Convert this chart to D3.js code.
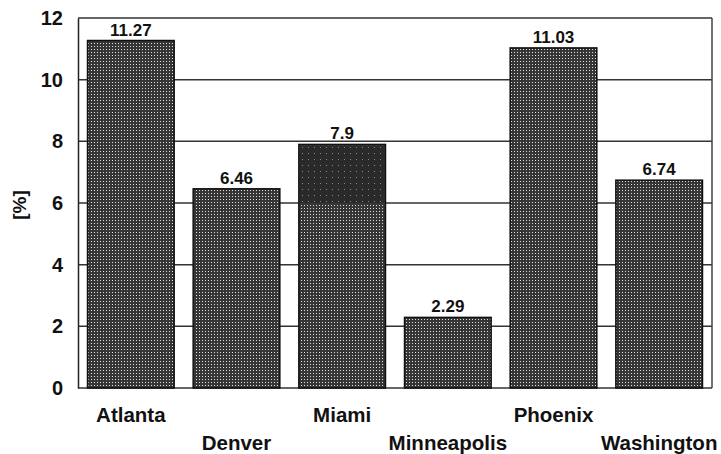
<!DOCTYPE html>
<html><head><meta charset="utf-8">
<script src="https://cdn.jsdelivr.net/npm/d3@7/dist/d3.min.js"></script>
<style>body{margin:0;background:#fff;} text{font-family:"Liberation Sans",Arial,sans-serif;font-weight:bold;fill:#111;}</style>
</head><body><svg id="c" width="721" height="454"></svg>
<script>
const categories = ["Atlanta","Denver","Miami","Minneapolis","Phoenix","Washington"];
const values = [11.27, 6.46, 7.9, 2.29, 11.03, 6.74];
const valueLabels = ["11.27","6.46","7.9","2.29","11.03","6.74"];
const yTicks = [0,2,4,6,8,10,12];
const darkSegment = {category:"Miami", from:6, to:7.9};

const svg = d3.select("#c");
const L=78, R=712, T=18, B=388;
const x = d3.scaleBand().domain(categories).range([L,R]).paddingInner(0.18).paddingOuter(0.09);
const y = d3.scaleLinear().domain([0,12]).range([B,T]);

const defs = svg.append("defs");
const p = defs.append("pattern").attr("id","dots").attr("patternUnits","userSpaceOnUse").attr("width",3).attr("height",3);
p.append("rect").attr("width",3).attr("height",3).attr("fill","#363636");
p.append("rect").attr("x",1).attr("y",1).attr("width",1).attr("height",1).attr("fill","#e0e0e0");
const p2 = defs.append("pattern").attr("id","dark").attr("patternUnits","userSpaceOnUse").attr("width",6).attr("height",6);
p2.append("rect").attr("width",6).attr("height",6).attr("fill","#2a2a2a");
p2.append("rect").attr("x",2).attr("y",3).attr("width",1).attr("height",1).attr("fill","#888");

// gridlines
svg.append("g").selectAll("line").data(yTicks.filter(d=>d>0)).join("line")
  .attr("x1",L).attr("x2",R).attr("y1",d=>y(d)).attr("y2",d=>y(d))
  .attr("stroke","#333").attr("stroke-width",1.5);
// border
svg.append("line").attr("x1",R).attr("x2",R).attr("y1",T).attr("y2",B).attr("stroke","#444").attr("stroke-width",1.5);
svg.append("line").attr("x1",L).attr("x2",R).attr("y1",B).attr("y2",B).attr("stroke","#333").attr("stroke-width",1.5);

// y axis
const ya = svg.append("g").attr("transform",`translate(${L},0)`).call(d3.axisLeft(y).tickValues(yTicks).tickSize(0).tickPadding(15));
ya.select(".domain").attr("stroke","#222").attr("stroke-width",1.5);
ya.selectAll("text").style("font-size","20px").style("font-family","'Liberation Sans',Arial,sans-serif").style("font-weight","bold").attr("fill","#111");

// bars
svg.append("g").selectAll("rect").data(categories).join("rect")
  .attr("x",d=>x(d)).attr("width",x.bandwidth())
  .attr("y",(d,i)=>y(values[i])).attr("height",(d,i)=>y(0)-y(values[i]))
  .attr("fill","url(#dots)").attr("stroke","#111").attr("stroke-width",1.5);
svg.append("rect").attr("x",x(darkSegment.category)+0.75).attr("width",x.bandwidth()-1.5)
  .attr("y",y(darkSegment.to)+0.75).attr("height",y(darkSegment.from)-y(darkSegment.to)-0.75)
  .attr("fill","url(#dark)");

// value labels
svg.append("g").selectAll("text").data(categories).join("text")
  .attr("x",d=>x(d)+x.bandwidth()/2).attr("y",(d,i)=>y(values[i])-5)
  .attr("text-anchor","middle").style("font-size","17px").text((d,i)=>valueLabels[i]);

// category labels (staggered)
svg.append("g").selectAll("text").data(categories).join("text")
  .attr("x",d=>x(d)+x.bandwidth()/2).attr("y",(d,i)=>i%2===0?422:450)
  .attr("text-anchor","middle").style("font-size","20.5px").text(d=>d);

// y label
svg.append("text").attr("transform","translate(26,205) rotate(-90)").attr("text-anchor","middle").style("font-size","19px").text("[%]");
</script></body></html>
